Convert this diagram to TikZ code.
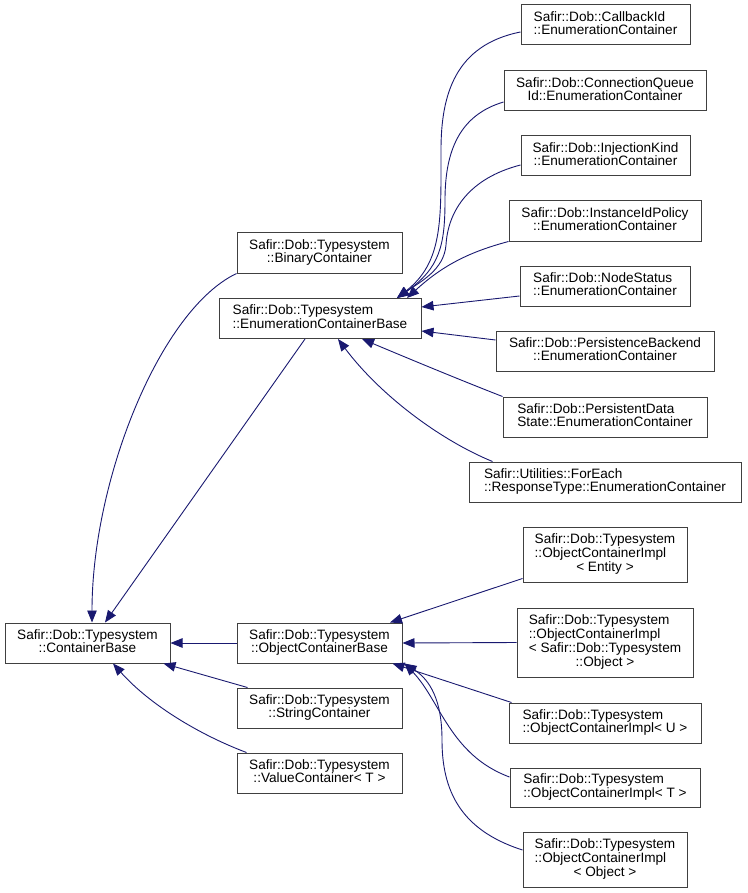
\documentclass[tikz,border=0pt]{standalone}
\usepackage{fontspec}
\setmainfont{Liberation Sans}
\usetikzlibrary{arrows.meta}
\definecolor{midnightblue}{HTML}{191970}
\newcommand\lbl[2]{\begin{tabular}{@{}l@{}}#1\\\multicolumn{1}{@{}c@{}}{#2}\end{tabular}}

\begin{document}
\begin{tikzpicture}[x=1pt,y=-1pt,
  cls/.style={draw=black!75,line width=1pt,inner sep=0pt,minimum height=40pt,font=\fontsize{13.6}{13.3}\selectfont},
  edge/.style={draw=midnightblue,line width=0.9pt,-{Triangle[length=12pt,width=9.5pt]}}]
\useasboundingbox (0,0) rectangle (747,893);
\node[cls,minimum width=165pt] (cb) at (87.5,643) {\lbl{Safir::Dob::Typesystem}{::ContainerBase}};
\node[cls,minimum width=165pt] (bin) at (319.5,253) {\lbl{Safir::Dob::Typesystem}{::BinaryContainer}};
\node[cls,minimum width=202pt] (ecb) at (320,318.5) {\lbl{Safir::Dob::Typesystem}{::EnumerationContainerBase}};
\node[cls,minimum width=165pt] (ocb) at (319.5,643) {\lbl{Safir::Dob::Typesystem}{::ObjectContainerBase}};
\node[cls,minimum width=165pt] (str) at (319.5,708) {\lbl{Safir::Dob::Typesystem}{::StringContainer}};
\node[cls,minimum width=165pt] (val) at (319.5,773) {\lbl{Safir::Dob::Typesystem}{::ValueContainer< T >}};
\node[cls,minimum width=169pt] (cbid) at (605.5,25) {\lbl{Safir::Dob::CallbackId}{::EnumerationContainer}};
\node[cls,minimum width=202pt] (cq) at (605,91) {\lbl{Safir::Dob::ConnectionQueue}{Id::EnumerationContainer}};
\node[cls,minimum width=169pt] (inj) at (605.5,156) {\lbl{Safir::Dob::InjectionKind}{::EnumerationContainer}};
\node[cls,minimum width=192pt] (iip) at (605,221) {\lbl{Safir::Dob::InstanceIdPolicy}{::EnumerationContainer}};
\node[cls,minimum width=170pt] (ns) at (605,286) {\lbl{Safir::Dob::NodeStatus}{::EnumerationContainer}};
\node[cls,minimum width=218pt] (pb) at (605,351) {\lbl{Safir::Dob::PersistenceBackend}{::EnumerationContainer}};
\node[cls,minimum width=204pt] (pds) at (605,417) {\lbl{Safir::Dob::PersistentData}{State::EnumerationContainer}};
\node[cls,minimum width=272pt] (fe) at (605,482) {\lbl{Safir::Utilities::ForEach}{::ResponseType::EnumerationContainer}};
\node[cls,minimum width=164pt,minimum height=55pt] (ent) at (605,554.5) {\lbl{Safir::Dob::Typesystem\\::ObjectContainerImpl}{< Entity >}};
\node[cls,minimum width=176pt,minimum height=69pt] (obj) at (605,642.5) {\lbl{Safir::Dob::Typesystem\\::ObjectContainerImpl\\< Safir::Dob::Typesystem}{::Object >}};
\node[cls,minimum width=192pt] (u) at (605,723) {\lbl{Safir::Dob::Typesystem}{::ObjectContainerImpl< U >}};
\node[cls,minimum width=190pt,minimum height=39pt] (t) at (605,787.5) {\lbl{Safir::Dob::Typesystem}{::ObjectContainerImpl< T >}};
\node[cls,minimum width=164pt,minimum height=55pt] (objt) at (605,859.5) {\lbl{Safir::Dob::Typesystem\\::ObjectContainerImpl}{< Object >}};
\draw[edge] (bin.south west) .. controls (160,310) and (92,480) .. ([xshift=4.5pt]cb.north);
\draw[edge] ([xshift=-15pt]ecb.south) -- ([xshift=17.5pt]cb.north);
\draw[edge] (ocb.west) -- (cb.east);
\draw[edge] ([xshift=11pt]str.north west) -- ([xshift=-7pt]cb.south east);
\draw[edge] ([xshift=10pt]val.north west) .. controls (200,735) and (150,705) .. ([xshift=25.5pt]cb.south);
\draw[edge] ([yshift=-7pt]cbid.west) .. controls (455,45) and (441,95) .. (441,150) .. controls (441,220) and (443,262) .. ([xshift=77pt]ecb.north);
\draw[edge] ([yshift=-11pt]cq.west) .. controls (460,115) and (445,150) .. (445,200) .. controls (445,245) and (440,268) .. ([xshift=77pt]ecb.north);
\draw[edge] ([yshift=-9pt]inj.west) .. controls (470,178) and (448,210) .. (446,245) .. controls (444,270) and (420,282) .. ([xshift=77pt]ecb.north);
\draw[edge] (iip.south west) .. controls (465,253) and (440,268) .. ([xshift=87pt]ecb.north);
\draw[edge] ([yshift=-10pt]ns.west) -- ([yshift=11.5pt]ecb.east);
\draw[edge] ([yshift=11pt]pb.west) -- ([yshift=-12.5pt]ecb.east);
\draw[edge] (pds.north west) .. controls (460,380) and (400,355) .. ([xshift=42pt]ecb.south);
\draw[edge] ([xshift=24pt]fe.north west) .. controls (440,440) and (380,395) .. ([xshift=18pt]ecb.south);
\draw[edge] ([yshift=4pt]ent.south west) -- ([xshift=-12.5pt]ocb.north east);
\draw[edge] (obj.west) -- (ocb.east);
\draw[edge] ([xshift=3pt]u.north west) -- ([xshift=-10pt]ocb.south east);
\draw[edge] ([yshift=10.5pt]t.west) .. controls (450,755) and (440,700) .. ([xshift=2pt]ocb.south east);
\draw[edge] ([yshift=9.5pt]objt.west) .. controls (460,830) and (442,790) .. (442,740) .. controls (442,700) and (430,680) .. ([xshift=2pt]ocb.south east);
\end{tikzpicture}
\end{document}
